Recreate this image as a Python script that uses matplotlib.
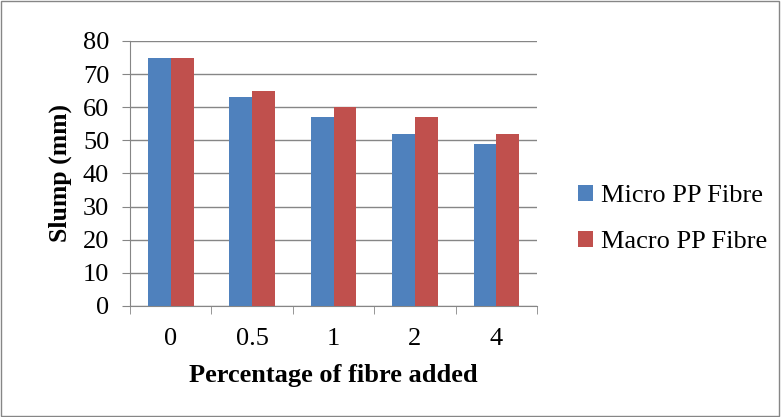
import numpy as np
import matplotlib.pyplot as plt
from matplotlib.patches import Rectangle

# data
fibre = ['0', '0.5', '1', '2', '4']
micro = [75, 63, 57, 52, 49]
macro = [75, 65, 60, 57, 52]

plt.rcParams['font.family'] = ['Liberation Serif', 'DejaVu Serif']

fig = plt.figure(figsize=(7.81, 4.17), dpi=100)
ax = fig.add_axes([0.1665, 0.2662, 0.5211, 0.6355])

x = np.arange(len(fibre))
w = 0.28
ax.bar(x - w/2, micro, w, color='#4f81bd', label='Micro PP Fibre', zorder=3)
ax.bar(x + w/2, macro, w, color='#c0504d', label='Macro PP Fibre', zorder=3)

ax.set_xlim(-0.5, len(fibre) - 0.5)
ax.set_ylim(0, 80)
ax.set_yticks(range(0, 81, 10))
ax.set_xticks(x)
ax.set_xticklabels(fibre)
ax.set_xticks(np.arange(-0.5, len(fibre)), minor=True)
ax.tick_params(axis='x', which='major', length=0, labelsize=19, pad=16)
ax.tick_params(axis='x', which='minor', length=6, color='#868686', direction='out')
ax.tick_params(axis='y', length=6, color='#868686', labelsize=19, pad=9)
ax.grid(axis='y', color='#868686', linewidth=1, zorder=0)

for s in ['top', 'right']:
    ax.spines[s].set_visible(False)
for s in ['left', 'bottom']:
    ax.spines[s].set_color('#868686')

ax.set_ylabel('Slump (mm)', fontsize=18.5, fontweight='bold', labelpad=8)
ax.set_xlabel('Percentage of fibre added', fontsize=19, fontweight='bold', labelpad=10)

fig.legend(loc='center left', bbox_to_anchor=(0.71, 0.475), frameon=False, fontsize=19,
           handlelength=0.55, handleheight=0.55, handletextpad=0.3, labelspacing=0.9)

fig.patches.append(Rectangle((0.001, 0.002), 0.997, 0.995, transform=fig.transFigure,
                             fill=False, edgecolor='#868686', linewidth=1))

plt.savefig('out.png', dpi=100)
